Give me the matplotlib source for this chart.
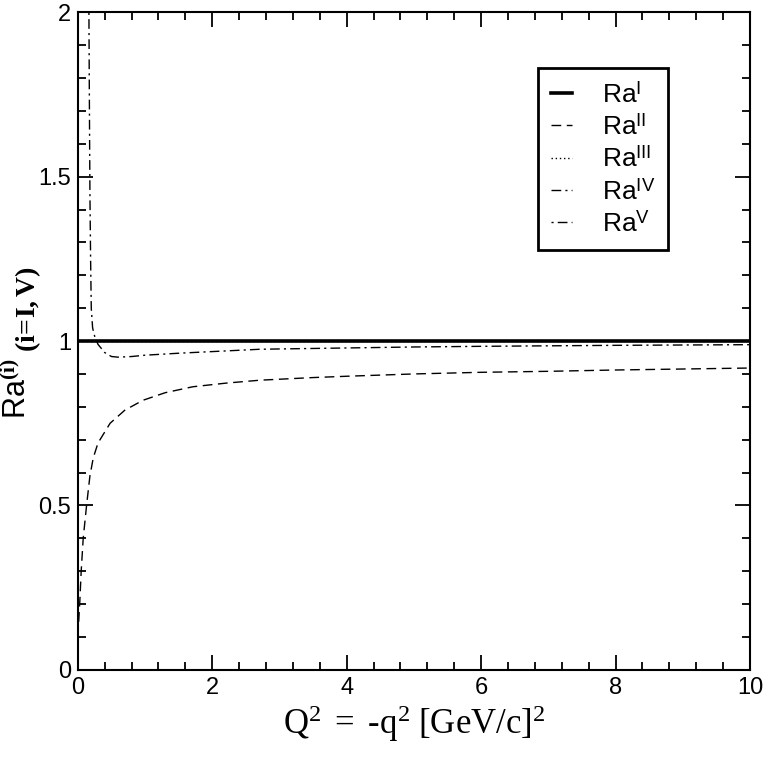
import numpy as np
import matplotlib
matplotlib.use("Agg")
import matplotlib.pyplot as plt
from matplotlib.ticker import MultipleLocator

plt.rcParams['font.family'] = ['Liberation Sans', 'DejaVu Sans']
plt.rcParams['mathtext.fontset'] = 'custom'
plt.rcParams['mathtext.rm'] = 'Liberation Serif'
plt.rcParams['mathtext.bf'] = 'Liberation Serif:bold'
plt.rcParams['mathtext.sf'] = 'Liberation Sans'
plt.rcParams['mathtext.it'] = 'Liberation Serif:italic'

# Q^2 grid and ratios
q2_flat = [0.0, 10.0]
ra_I = [1.0, 1.0]
ra_III = [1.0, 1.0]

q2_II = [0.0, 0.03, 0.05, 0.08, 0.13, 0.18, 0.23, 0.3, 0.48, 0.7, 0.97,
         1.3, 1.71, 2.2, 2.71, 3.5, 4.0, 5.0, 6.0, 7.0, 8.0, 9.0, 10.0]
ra_II = [0.10, 0.21, 0.30, 0.40, 0.50, 0.59, 0.645, 0.69, 0.75, 0.79, 0.82,
         0.843, 0.861, 0.872, 0.881, 0.889, 0.893, 0.900, 0.905, 0.908, 0.912, 0.915, 0.918]

q2_IV = [0.162, 0.165, 0.17, 0.175, 0.18, 0.19, 0.2, 0.22, 0.25, 0.3, 0.4, 0.5, 0.6,
         0.8, 1.0, 1.5, 2.0, 2.7, 3.0, 4.0, 5.0, 6.0, 8.0, 10.0]
ra_IV = [2.2, 2.0, 1.8, 1.62, 1.45, 1.25, 1.1, 1.04, 1.015, 0.99, 0.965, 0.953, 0.951,
         0.953, 0.957, 0.963, 0.968, 0.975, 0.976, 0.979, 0.982, 0.984, 0.987, 0.989]
ra_V = ra_IV

fig = plt.figure(figsize=(7.63, 7.63), dpi=100)
ax = fig.add_axes([0.102, 0.122, 0.881, 0.862])

ax.plot(q2_flat, ra_I, color='black', lw=2.6, ls='-', label=r'Ra$^{\mathsf{I}}$')
ax.plot(q2_II, ra_II, color='black', lw=1.0, ls=(0, (7, 4)), label=r'Ra$^{\mathsf{II}}$')
ax.plot(q2_flat, ra_III, color='black', lw=1.0, ls=(0, (1, 2)), label=r'Ra$^{\mathsf{III}}$', zorder=1)
ax.plot(q2_IV, ra_IV, color='black', lw=1.0, ls=(0, (7, 3, 1.5, 3)), label=r'Ra$^{\mathsf{IV}}$')
ax.plot(q2_IV, ra_V, color='black', lw=1.0, ls=(0, (1.5, 3, 7, 3)), label=r'Ra$^{\mathsf{V}}$', alpha=0.0)

ax.set_xlim(0, 10)
ax.set_ylim(0, 2)
ax.xaxis.set_major_locator(MultipleLocator(2))
ax.xaxis.set_minor_locator(MultipleLocator(0.4))
ax.yaxis.set_minor_locator(MultipleLocator(0.1))
ax.set_yticks([0, 0.5, 1, 1.5, 2])
ax.set_yticklabels(['0', '0.5', '1', '1.5', '2'])
ax.tick_params(which='both', direction='in', top=True, right=True, width=1.3, labelsize=17, colors='black')
ax.tick_params(which='major', length=11, pad=5)
ax.tick_params(which='minor', length=5.5)
for s in ax.spines.values():
    s.set_linewidth(1.5)

ax.set_xlabel(r'$\mathrm{Q}^{2}\ \mathrm{=\ \text{-}q}^{2}\ \mathrm{[GeV/c]}^{2}$', fontsize=25, labelpad=3)
# y label in two sizes, like the original
fig.text(0.023, 0.49, r'$\mathsf{Ra}^{\mathbf{(i)}}$', fontsize=22, rotation=90, ha='center', va='center')
fig.text(0.037, 0.595, r'$\mathbf{(i\!=\!I,V)}$', fontsize=20, rotation=90, ha='center', va='center')

leg = ax.legend(loc='upper right', bbox_to_anchor=(0.878, 0.915), borderaxespad=0, fontsize=19,
                handlelength=0.8, handletextpad=1.1, labelspacing=0.25, borderpad=0.5, fancybox=False,
                edgecolor='black', framealpha=1.0)
leg.get_frame().set_linewidth(2.0)
for h in leg.get_lines():
    h.set_alpha(1.0)

fig.savefig('out.png', dpi=100)
